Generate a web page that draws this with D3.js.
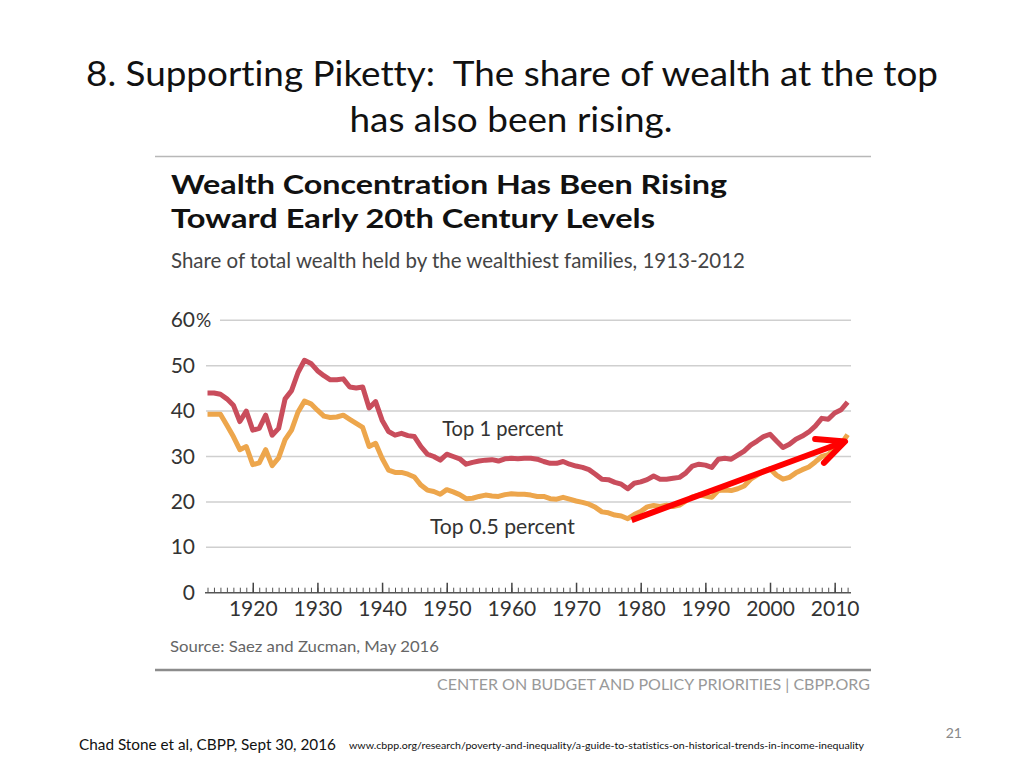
<!DOCTYPE html>
<html>
<head>
<meta charset="utf-8">
<script src="https://cdn.jsdelivr.net/npm/d3@7"></script>
<style>
  html, body { margin: 0; padding: 0; background: #fff; }
  svg { display: block; }
  text { font-variant-ligatures: none; font-feature-settings: "liga" 0, "clig" 0; white-space: pre; }
</style>
</head>
<body>
<svg id="chart" width="1024" height="768"></svg>
<script>
// ---------- data ----------
const years = d3.range(1913, 2013);
const top1 = [
  44.0, 44.0, 43.7, 42.7, 41.3, 37.7, 40.0, 35.8, 36.2, 39.1,
  34.7, 36.2, 42.7, 44.5, 48.5, 51.2, 50.5, 48.9, 47.8, 46.9,
  46.9, 47.1, 45.3, 45.1, 45.3, 40.7, 42.1, 38.0, 35.5, 34.7,
  35.1, 34.6, 34.4, 32.2, 30.5, 30.0, 29.2, 30.5, 30.0, 29.5,
  28.3, 28.7, 29.0, 29.2, 29.3, 29.0, 29.5, 29.6, 29.5, 29.6,
  29.6, 29.4, 28.9, 28.5, 28.5, 28.9, 28.3, 27.9, 27.6, 27.1,
  26.1, 25.0, 24.9, 24.3, 23.9, 22.9, 24.1, 24.4, 24.9, 25.7,
  25.0, 25.0, 25.2, 25.4, 26.4, 27.9, 28.3, 28.1, 27.6, 29.4,
  29.6, 29.4, 30.3, 31.2, 32.5, 33.4, 34.4, 34.9, 33.4, 32.0,
  32.7, 33.8, 34.5, 35.4, 36.7, 38.4, 38.2, 39.6, 40.3, 42.0
];
const top05 = [
  39.3, 39.3, 39.3, 36.9, 34.4, 31.5, 32.2, 28.2, 28.6, 31.5,
  28.0, 29.7, 33.7, 35.8, 39.8, 42.2, 41.6, 40.2, 38.9, 38.6,
  38.7, 39.1, 38.2, 37.3, 36.4, 32.2, 32.9, 29.6, 27.0, 26.5,
  26.5, 26.1, 25.5, 23.7, 22.6, 22.3, 21.7, 22.7, 22.2, 21.6,
  20.7, 20.8, 21.2, 21.5, 21.3, 21.2, 21.6, 21.8, 21.7, 21.7,
  21.5, 21.2, 21.2, 20.7, 20.6, 21.0, 20.6, 20.2, 19.9, 19.5,
  18.8, 17.8, 17.6, 17.1, 16.9, 16.3, 17.2, 17.9, 18.9, 19.2,
  19.0, 19.3, 19.0, 19.3, 20.2, 21.1, 21.5, 21.3, 21.0, 22.5,
  22.6, 22.5, 22.9, 23.5, 25.0, 25.9, 26.8, 27.3, 25.9, 25.0,
  25.4, 26.4, 27.1, 27.7, 28.8, 30.0, 30.4, 31.8, 32.7, 34.8
];
const yTicks = [0, 10, 20, 30, 40, 50, 60];
const xLabelTicks = [1920, 1930, 1940, 1950, 1960, 1970, 1980, 1990, 2000, 2010];
const seriesNames = ["Top 1 percent", "Top 0.5 percent"];
const labelAnchors = [[1949.3, 34.6], [1947.4, 13.0]];
const arrowFrom = [1978.6, 16.0];
const arrowTo = [2011.6, 33.3];

// ---------- layout ----------
const svg = d3.select("#chart");
const x = d3.scaleLinear().domain([1913, 2012]).range([207.5, 847.6]);
const y = d3.scaleLinear().domain([0, 60]).range([592.7, 320.3]);

const slideFont = "Lato, 'Open Sans', sans-serif";
const chartFont = "Lato, 'Noto Sans', sans-serif";

// Slide title
svg.append("text").attr("x", 512).attr("y", 86).attr("text-anchor", "middle")
  .attr("xml:space", "preserve")
  .attr("font-family", slideFont).attr("font-size", 35).attr("fill", "#111")
  .attr("textLength", 852).attr("lengthAdjust", "spacingAndGlyphs")
  .text("8. Supporting Piketty:  The share of wealth at the top");
svg.append("text").attr("x", 511).attr("y", 132).attr("text-anchor", "middle")
  .attr("font-family", slideFont).attr("font-size", 35).attr("fill", "#111")
  .attr("textLength", 323).attr("lengthAdjust", "spacingAndGlyphs")
  .text("has also been rising.");

// Rules
svg.append("line").attr("x1", 155).attr("x2", 871).attr("y1", 156.5).attr("y2", 156.5)
  .attr("stroke", "#b8b8b8").attr("stroke-width", 1.5);
svg.append("line").attr("x1", 155).attr("x2", 871).attr("y1", 670).attr("y2", 670)
  .attr("stroke", "#8c8c8c").attr("stroke-width", 2.5);

// Chart titles
svg.append("text").attr("x", 171).attr("y", 194)
  .attr("font-family", chartFont).attr("font-weight", 700).attr("font-size", 27).attr("fill", "#111")
  .attr("textLength", 556).attr("lengthAdjust", "spacingAndGlyphs")
  .text("Wealth Concentration Has Been Rising");
svg.append("text").attr("x", 171).attr("y", 228)
  .attr("font-family", chartFont).attr("font-weight", 700).attr("font-size", 27).attr("fill", "#111")
  .attr("textLength", 484).attr("lengthAdjust", "spacingAndGlyphs")
  .text("Toward Early 20th Century Levels");
svg.append("text").attr("x", 171).attr("y", 268)
  .attr("font-family", chartFont).attr("font-size", 22).attr("fill", "#444")
  .attr("textLength", 574).attr("lengthAdjust", "spacingAndGlyphs")
  .text("Share of total wealth held by the wealthiest families, 1913-2012");

// Gridlines
const grid = svg.append("g");
grid.selectAll("line").data(yTicks.filter(d => d > 0)).join("line")
  .attr("x1", d => d === 60 ? 220 : 206).attr("x2", 851)
  .attr("y1", d => y(d)).attr("y2", d => y(d))
  .attr("stroke", "#cfcfcf").attr("stroke-width", 1.5);

// Y labels
const yl = svg.append("g").attr("font-family", chartFont).attr("font-size", 21).attr("fill", "#333");
yl.selectAll("text").data(yTicks).join("text")
  .attr("x", 195).attr("y", d => y(d) + 7).attr("text-anchor", "end")
  .text(d => d);
yl.append("text").attr("x", 196).attr("y", y(60) + 7).attr("font-size", 19).text("%");

// X axis: minor + major ticks upward, labels below
const axisY = y(0);
const axG = svg.append("g").attr("transform", `translate(0,${axisY})`);
axG.append("line").attr("x1", 205).attr("x2", 851).attr("y1", 0).attr("y2", 0)
  .attr("stroke", "#555").attr("stroke-width", 1.5);
const minorAxis = d3.axisTop(x).tickValues(years).tickSize(5).tickFormat("");
const gMinor = axG.append("g").call(minorAxis);
gMinor.select(".domain").remove();
gMinor.selectAll(".tick line").attr("stroke", "#555").attr("stroke-width", 1);
const majorAxis = d3.axisTop(x).tickValues(xLabelTicks).tickSize(10).tickFormat("");
const gMajor = axG.append("g").call(majorAxis);
gMajor.select(".domain").remove();
gMajor.selectAll(".tick line").attr("stroke", "#444").attr("stroke-width", 1.5);
const labelAxis = d3.axisBottom(x).tickValues(xLabelTicks).tickSize(0).tickPadding(8).tickFormat(d3.format("d"));
const gLab = axG.append("g").call(labelAxis);
gLab.select(".domain").remove();
gLab.selectAll("text").attr("font-family", chartFont).attr("font-size", 21).attr("fill", "#333");

// Lines
const line = d3.line().x((d, i) => x(years[i])).y(d => y(d)).curve(d3.curveLinear);
svg.append("path").datum(top05).attr("d", line).attr("fill", "none")
  .attr("stroke", "#eda64c").attr("stroke-width", 5).attr("stroke-linejoin", "round");
svg.append("path").datum(top1).attr("d", line).attr("fill", "none")
  .attr("stroke", "#c94d5c").attr("stroke-width", 5).attr("stroke-linejoin", "round");

// Series labels
const labelWidths = [121, 145];
svg.append("g").selectAll("text").data(seriesNames).join("text")
  .attr("x", (d, i) => x(labelAnchors[i][0])).attr("y", (d, i) => y(labelAnchors[i][1]))
  .attr("font-family", chartFont).attr("font-size", 22).attr("fill", "#333")
  .attr("textLength", (d, i) => labelWidths[i]).attr("lengthAdjust", "spacingAndGlyphs")
  .text(d => d);

// Source + footer
svg.append("text").attr("x", 170).attr("y", 652)
  .attr("font-family", chartFont).attr("font-size", 15).attr("fill", "#666")
  .attr("textLength", 269).attr("lengthAdjust", "spacingAndGlyphs")
  .text("Source: Saez and Zucman, May 2016");
svg.append("text").attr("x", 870).attr("y", 690).attr("text-anchor", "end")
  .attr("font-family", chartFont).attr("font-size", 14.5).attr("fill", "#999")
  .attr("textLength", 433).attr("lengthAdjust", "spacingAndGlyphs")
  .text("CENTER ON BUDGET AND POLICY PRIORITIES | CBPP.ORG");

// Red arrow annotation
const ax1 = x(arrowFrom[0]), ay1 = y(arrowFrom[1]), ax2 = x(arrowTo[0]), ay2 = y(arrowTo[1]);
const ang = Math.atan2(ay2 - ay1, ax2 - ax1);
const headLen = 30, headAng = 0.44;
svg.append("line").attr("x1", ax1).attr("y1", ay1).attr("x2", ax2).attr("y2", ay2)
  .attr("stroke", "#ff0000").attr("stroke-width", 6);
svg.append("path")
  .attr("d", `M${ax2 - headLen * Math.cos(ang - headAng)},${ay2 - headLen * Math.sin(ang - headAng)} L${ax2},${ay2} L${ax2 - headLen * Math.cos(ang + headAng)},${ay2 - headLen * Math.sin(ang + headAng)}`)
  .attr("fill", "none").attr("stroke", "#ff0000").attr("stroke-width", 6)
  .attr("stroke-linecap", "round").attr("stroke-linejoin", "round");

// Slide footer
svg.append("text").attr("x", 79).attr("y", 750)
  .attr("font-family", slideFont).attr("font-size", 16).attr("fill", "#111")
  .attr("textLength", 257).attr("lengthAdjust", "spacingAndGlyphs")
  .text("Chad Stone et al, CBPP, Sept 30, 2016");
svg.append("text").attr("x", 349).attr("y", 749)
  .attr("font-family", slideFont).attr("font-size", 10).attr("fill", "#111")
  .attr("textLength", 515).attr("lengthAdjust", "spacingAndGlyphs")
  .text("www.cbpp.org/research/poverty-and-inequality/a-guide-to-statistics-on-historical-trends-in-income-inequality");
svg.append("text").attr("x", 962).attr("y", 738).attr("text-anchor", "end")
  .attr("font-family", slideFont).attr("font-size", 14).attr("fill", "#888")
  .text("21");
</script>
</body>
</html>
